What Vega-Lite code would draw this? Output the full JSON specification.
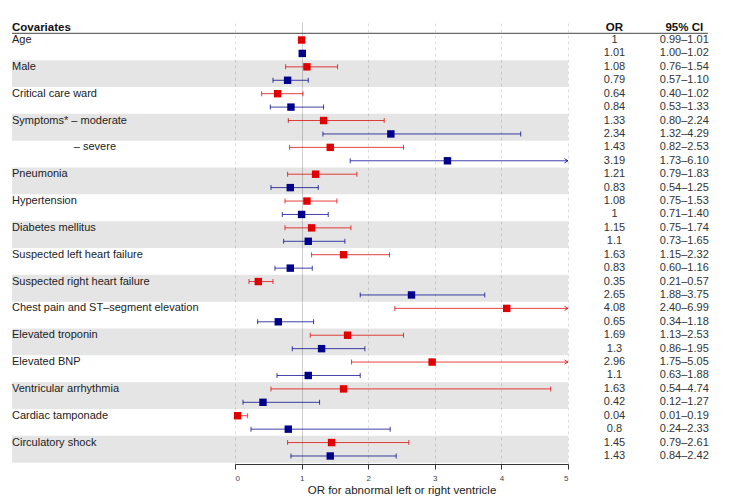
{
  "$schema": "https://vega.github.io/schema/vega-lite/v6.json",
  "autosize": {"type": "none"},
  "width": 333,
  "height": 442,
  "padding": {"left": 235, "top": 22, "right": 168, "bottom": 35},
  "background": "white",
  "config": {
    "font": "Liberation Sans",
    "view": {"stroke": null},
    "text": {"font": "Liberation Sans"}
  },
  "datasets": {
    "covariates": [
      {"cov": "Age", "label": "Age"},
      {"cov": "Male", "label": "Male"},
      {"cov": "Critical care ward", "label": "Critical care ward"},
      {"cov": "Symptoms* – moderate", "label": "Symptoms* – moderate"},
      {"cov": "Symptoms* – severe", "label": "– severe"},
      {"cov": "Pneumonia", "label": "Pneumonia"},
      {"cov": "Hypertension", "label": "Hypertension"},
      {"cov": "Diabetes mellitus", "label": "Diabetes mellitus"},
      {"cov": "Suspected left heart failure", "label": "Suspected left heart failure"},
      {"cov": "Suspected right heart failure", "label": "Suspected right heart failure"},
      {"cov": "Chest pain and ST–segment elevation", "label": "Chest pain and ST–segment elevation"},
      {"cov": "Elevated troponin", "label": "Elevated troponin"},
      {"cov": "Elevated BNP", "label": "Elevated BNP"},
      {"cov": "Ventricular arrhythmia", "label": "Ventricular arrhythmia"},
      {"cov": "Cardiac tamponade", "label": "Cardiac tamponade"},
      {"cov": "Circulatory shock", "label": "Circulatory shock"}
    ],
    "estimates": [
      {"cov": "Age", "grp": "LV", "or": 1, "lo": 0.99, "hi": 1.01, "ci": "0.99–1.01"},
      {"cov": "Age", "grp": "RV", "or": 1.01, "lo": 1.00, "hi": 1.02, "ci": "1.00–1.02"},
      {"cov": "Male", "grp": "LV", "or": 1.08, "lo": 0.76, "hi": 1.54, "ci": "0.76–1.54"},
      {"cov": "Male", "grp": "RV", "or": 0.79, "lo": 0.57, "hi": 1.10, "ci": "0.57–1.10"},
      {"cov": "Critical care ward", "grp": "LV", "or": 0.64, "lo": 0.40, "hi": 1.02, "ci": "0.40–1.02"},
      {"cov": "Critical care ward", "grp": "RV", "or": 0.84, "lo": 0.53, "hi": 1.33, "ci": "0.53–1.33"},
      {"cov": "Symptoms* – moderate", "grp": "LV", "or": 1.33, "lo": 0.80, "hi": 2.24, "ci": "0.80–2.24"},
      {"cov": "Symptoms* – moderate", "grp": "RV", "or": 2.34, "lo": 1.32, "hi": 4.29, "ci": "1.32–4.29"},
      {"cov": "Symptoms* – severe", "grp": "LV", "or": 1.43, "lo": 0.82, "hi": 2.53, "ci": "0.82–2.53"},
      {"cov": "Symptoms* – severe", "grp": "RV", "or": 3.19, "lo": 1.73, "hi": 6.10, "ci": "1.73–6.10"},
      {"cov": "Pneumonia", "grp": "LV", "or": 1.21, "lo": 0.79, "hi": 1.83, "ci": "0.79–1.83"},
      {"cov": "Pneumonia", "grp": "RV", "or": 0.83, "lo": 0.54, "hi": 1.25, "ci": "0.54–1.25"},
      {"cov": "Hypertension", "grp": "LV", "or": 1.08, "lo": 0.75, "hi": 1.53, "ci": "0.75–1.53"},
      {"cov": "Hypertension", "grp": "RV", "or": 1, "lo": 0.71, "hi": 1.40, "ci": "0.71–1.40"},
      {"cov": "Diabetes mellitus", "grp": "LV", "or": 1.15, "lo": 0.75, "hi": 1.74, "ci": "0.75–1.74"},
      {"cov": "Diabetes mellitus", "grp": "RV", "or": 1.1, "lo": 0.73, "hi": 1.65, "ci": "0.73–1.65"},
      {"cov": "Suspected left heart failure", "grp": "LV", "or": 1.63, "lo": 1.15, "hi": 2.32, "ci": "1.15–2.32"},
      {"cov": "Suspected left heart failure", "grp": "RV", "or": 0.83, "lo": 0.60, "hi": 1.16, "ci": "0.60–1.16"},
      {"cov": "Suspected right heart failure", "grp": "LV", "or": 0.35, "lo": 0.21, "hi": 0.57, "ci": "0.21–0.57"},
      {"cov": "Suspected right heart failure", "grp": "RV", "or": 2.65, "lo": 1.88, "hi": 3.75, "ci": "1.88–3.75"},
      {"cov": "Chest pain and ST–segment elevation", "grp": "LV", "or": 4.08, "lo": 2.40, "hi": 6.99, "ci": "2.40–6.99"},
      {"cov": "Chest pain and ST–segment elevation", "grp": "RV", "or": 0.65, "lo": 0.34, "hi": 1.18, "ci": "0.34–1.18"},
      {"cov": "Elevated troponin", "grp": "LV", "or": 1.69, "lo": 1.13, "hi": 2.53, "ci": "1.13–2.53"},
      {"cov": "Elevated troponin", "grp": "RV", "or": 1.3, "lo": 0.86, "hi": 1.95, "ci": "0.86–1.95"},
      {"cov": "Elevated BNP", "grp": "LV", "or": 2.96, "lo": 1.75, "hi": 5.05, "ci": "1.75–5.05"},
      {"cov": "Elevated BNP", "grp": "RV", "or": 1.1, "lo": 0.63, "hi": 1.88, "ci": "0.63–1.88"},
      {"cov": "Ventricular arrhythmia", "grp": "LV", "or": 1.63, "lo": 0.54, "hi": 4.74, "ci": "0.54–4.74"},
      {"cov": "Ventricular arrhythmia", "grp": "RV", "or": 0.42, "lo": 0.12, "hi": 1.27, "ci": "0.12–1.27"},
      {"cov": "Cardiac tamponade", "grp": "LV", "or": 0.04, "lo": 0.01, "hi": 0.19, "ci": "0.01–0.19"},
      {"cov": "Cardiac tamponade", "grp": "RV", "or": 0.8, "lo": 0.24, "hi": 2.33, "ci": "0.24–2.33"},
      {"cov": "Circulatory shock", "grp": "LV", "or": 1.45, "lo": 0.79, "hi": 2.61, "ci": "0.79–2.61"},
      {"cov": "Circulatory shock", "grp": "RV", "or": 1.43, "lo": 0.84, "hi": 2.42, "ci": "0.84–2.42"}
    ]
  },
  "layer": [
    {
      "data": {"name": "covariates"},
      "transform": [
        {"window": [{"op": "row_number", "as": "i"}]},
        {"filter": "datum.i % 2 == 0"}
      ],
      "mark": {"type": "rect", "fill": "#000000", "opacity": 0.1},
      "encoding": {
        "x": {"datum": -3.348, "type": "quantitative", "scale": {"domain": [0, 5], "nice": false, "zero": false}, "axis": null},
        "x2": {"datum": 5},
        "y": {
          "field": "cov",
          "type": "nominal",
          "scale": {
            "domain": [
              "Age", "Male", "Critical care ward", "Symptoms* – moderate", "Symptoms* – severe",
              "Pneumonia", "Hypertension", "Diabetes mellitus", "Suspected left heart failure",
              "Suspected right heart failure", "Chest pain and ST–segment elevation", "Elevated troponin",
              "Elevated BNP", "Ventricular arrhythmia", "Cardiac tamponade", "Circulatory shock"
            ],
            "paddingInner": 0,
            "paddingOuter": 0.2347,
            "align": 0.897
          },
          "axis": null
        }
      }
    },
    {
      "data": {"name": "estimates"},
      "encoding": {
        "y": {"field": "cov", "type": "nominal"},
        "yOffset": {"field": "grp", "type": "nominal", "scale": {"domain": ["LV", "RV"], "paddingInner": 0, "paddingOuter": 0}},
        "color": {"field": "grp", "type": "nominal", "scale": {"domain": ["LV", "RV"], "range": ["#e00000", "#00008b"]}, "legend": null}
      },
      "layer": [
        {
          "mark": {"type": "rule", "strokeWidth": 1, "opacity": 0.75},
          "encoding": {
            "x": {
              "field": "lo",
              "type": "quantitative",
              "scale": {"domain": [0, 5], "nice": false, "zero": false, "clamp": true},
              "axis": {
                "values": [0, 1, 2, 3, 4, 5],
                "format": "d",
                "title": "OR for abnormal left or right ventricle",
                "grid": true,
                "gridColor": {"condition": {"test": "datum.value === 1", "value": "#cfcfcf"}, "value": "#dddddd"},
                "gridDash": {"condition": {"test": "datum.value === 1", "value": []}, "value": [3, 3]},
                "gridWidth": 1,
                "domainColor": "#333333",
                "tickColor": "#333333",
                "tickSize": 5,
                "labelFontSize": 8,
                "labelColor": "#444444",
                "labelPadding": 5,
                "titleFontSize": 11.5,
                "titleFontWeight": "normal",
                "titleColor": "#222222",
                "titlePadding": 2
              }
            },
            "x2": {"field": "hi"}
          }
        },
        {
          "mark": {"type": "tick", "thickness": 1, "size": 5, "opacity": 0.75},
          "encoding": {"x": {"field": "lo", "type": "quantitative"}}
        },
        {
          "transform": [{"filter": "datum.hi <= 5"}],
          "mark": {"type": "tick", "thickness": 1, "size": 5, "opacity": 0.75},
          "encoding": {"x": {"field": "hi", "type": "quantitative"}}
        },
        {
          "transform": [{"filter": "datum.hi > 5"}],
          "mark": {"type": "point", "shape": "M-1,-0.6L0,0L-1,0.6", "filled": false, "size": 49, "strokeWidth": 1, "opacity": 0.8},
          "encoding": {"x": {"field": "hi", "type": "quantitative"}}
        },
        {
          "mark": {"type": "square", "size": 55, "opacity": 1, "filled": true},
          "encoding": {"x": {"field": "or", "type": "quantitative"}}
        }
      ]
    },
    {
      "layer": [
        {
          "data": {"name": "covariates"},
          "transform": [{"filter": "!test(/^–/, datum.label)"}],
          "mark": {"type": "text", "align": "left", "baseline": "middle", "fontSize": 11, "color": "#222222"},
          "encoding": {
            "x": {"datum": -3.348, "type": "quantitative", "scale": {"domain": [0, 5], "nice": false, "zero": false}, "axis": null},
            "y": {"field": "cov", "type": "nominal"},
            "yOffset": {"datum": "LV"},
            "text": {"field": "label"}
          }
        },
        {
          "data": {"name": "covariates"},
          "transform": [{"filter": "test(/^–/, datum.label)"}],
          "mark": {"type": "text", "align": "left", "baseline": "middle", "fontSize": 11, "color": "#222222"},
          "encoding": {
            "x": {"datum": -2.42, "type": "quantitative"},
            "y": {"field": "cov", "type": "nominal"},
            "yOffset": {"datum": "LV"},
            "text": {"field": "label"}
          }
        },
        {
          "data": {"name": "estimates"},
          "mark": {"type": "text", "align": "center", "baseline": "middle", "fontSize": 11, "color": "#333333"},
          "encoding": {
            "x": {"datum": 5.698, "type": "quantitative"},
            "y": {"field": "cov", "type": "nominal"},
            "yOffset": {"field": "grp", "type": "nominal"},
            "text": {"field": "or", "type": "nominal"}
          }
        },
        {
          "data": {"name": "estimates"},
          "mark": {"type": "text", "align": "center", "baseline": "middle", "fontSize": 11, "color": "#333333"},
          "encoding": {
            "x": {"datum": 6.746, "type": "quantitative"},
            "y": {"field": "cov", "type": "nominal"},
            "yOffset": {"field": "grp", "type": "nominal"},
            "text": {"field": "ci", "type": "nominal"}
          }
        },
        {
          "data": {"values": [{}]},
          "mark": {"type": "rule", "color": "#444444", "strokeWidth": 1},
          "encoding": {
            "x": {"datum": -3.348, "type": "quantitative"},
            "x2": {"datum": 7.102},
            "y": {"datum": "Age", "type": "nominal", "bandPosition": 0}
          }
        },
        {
          "data": {"values": [{}]},
          "mark": {"type": "text", "text": "Covariates", "align": "left", "baseline": "alphabetic", "dy": -2.5, "fontSize": 11.5, "fontWeight": "bold", "color": "#111111"},
          "encoding": {
            "x": {"datum": -3.348, "type": "quantitative"},
            "y": {"datum": "Age", "type": "nominal", "bandPosition": 0}
          }
        },
        {
          "data": {"values": [{}]},
          "mark": {"type": "text", "text": "OR", "align": "center", "baseline": "alphabetic", "dy": -2.5, "fontSize": 11.5, "fontWeight": "bold", "color": "#111111"},
          "encoding": {
            "x": {"datum": 5.698, "type": "quantitative"},
            "y": {"datum": "Age", "type": "nominal", "bandPosition": 0}
          }
        },
        {
          "data": {"values": [{}]},
          "mark": {"type": "text", "text": "95% CI", "align": "center", "baseline": "alphabetic", "dy": -2.5, "fontSize": 11.5, "fontWeight": "bold", "color": "#111111"},
          "encoding": {
            "x": {"datum": 6.746, "type": "quantitative"},
            "y": {"datum": "Age", "type": "nominal", "bandPosition": 0}
          }
        }
      ]
    }
  ],
  "resolve": {"scale": {"x": "independent"}}
}
